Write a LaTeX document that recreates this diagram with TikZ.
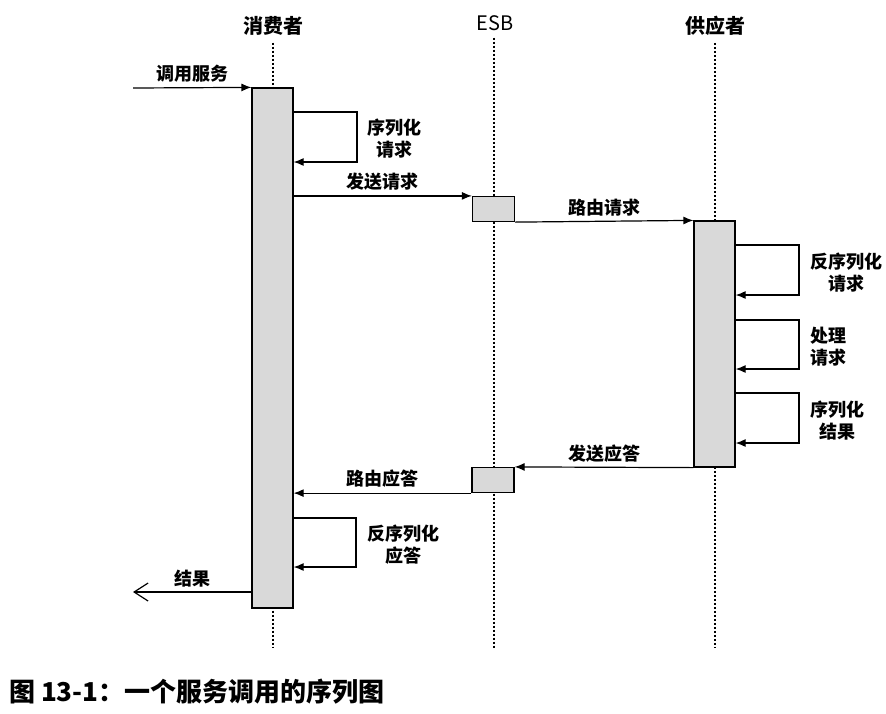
\documentclass[tikz,border=0pt]{standalone}
\usepackage{fontspec}
\setmainfont{Noto Sans CJK SC}
\usetikzlibrary{arrows.meta}

\begin{document}
\begin{tikzpicture}[x=0.5pt,y=-0.5pt,>=Latex,
    actor/.style={font=\bfseries\fontsize{10}{12}\selectfont},
    lifeline/.style={line width=1pt,dash pattern=on 1pt off 1pt},
    actbox/.style={draw,fill=black!15,line width=0.6pt,inner sep=0pt,minimum width=20.5pt},
    msg/.style={line width=0.6pt,-{Latex[length=5pt,width=4pt]}},
    lbl/.style={font=\bfseries\fontsize{9}{11}\selectfont,align=center},
    caption/.style={font=\bfseries\fontsize{13}{15}\selectfont}]

  \useasboundingbox (0,0) rectangle (886,713);

  % ===== 参与者 =====
  \node[actor] (cons) at (273,26) {消费者};
  \node[actor,font=\fontsize{10}{12}\selectfont] (esb) at (495,23) {ESB};
  \node[actor] (prov) at (715,26) {供应者};

  \coordinate (consend) at (273,648);
  \coordinate (esbend)  at (494,648);
  \coordinate (provend) at (715,648);

  % ===== 生命线 =====
  \draw[lifeline] (cons.south) -- (consend);
  \draw[lifeline] (esb.south -| esbend) -- (esbend);
  \draw[lifeline] (prov.south) -- (provend);

  % ===== 激活框 =====
  \node[actbox,minimum height=260pt] (cact) at (272.5,348) {};
  \node[actbox,minimum width=21pt,minimum height=12.5pt] (ereq) at (493.5,209) {};
  \node[actbox,minimum width=21pt,minimum height=12.5pt] (eres) at (493,480) {};
  \node[actbox,minimum height=123pt] (pact) at (714.5,344) {};

  % ===== 消息 =====
  \coordinate (start) at (133,88);
  \coordinate (finish) at (133,592);
  \draw[msg] (start) -- (cact.north west)
    node[lbl,midway,above=-1pt] {调用服务};

  \draw[msg] (cact.east |- 0,112) -- (357,112) |- (cact.east |- 0,162);
  \node[lbl,anchor=west] (ser) at (360,139) {序列化\\请求};

  \draw[msg] (cact.east |- ereq.north) -- (ereq.north west)
    node[lbl,midway,above=-1pt] {发送请求};
  \draw[msg] (ereq.south east) -- (pact.north west)
    node[lbl,midway,above=-1pt] {路由请求};

  \draw[msg] (pact.east |- 0,245) -- (799,245) |- (pact.east |- 0,295);
  \node[lbl,anchor=west] (deser) at (803,273) {反序列化\\请求};
  \draw[msg] (pact.east |- 0,320) -- (799,320) |- (pact.east |- 0,369);
  \node[lbl,anchor=west] (proc) at (803,347) {处理\\请求};
  \draw[msg] (pact.east |- 0,393) -- (799,393) |- (pact.east |- 0,443);
  \node[lbl,anchor=west] (serres) at (803,421) {序列化\\结果};

  \draw[msg] (pact.south west) -- (eres.north east)
    node[lbl,midway,above=-1pt] {发送应答};
  \draw[msg] (eres.south west) -- (cact.east |- eres.south)
    node[lbl,midway,above=-1pt] {路由应答};

  \draw[msg] (cact.east |- 0,518) -- (356,518) |- (cact.east |- 0,567);
  \node[lbl,anchor=west] (deserres) at (360,545) {反序列化\\应答};

  \draw[line width=0.6pt,-{Straight Barb[length=7pt,width=9pt]}] (cact.west |- finish) -- (finish)
    node[lbl,midway,above=-1pt] {结果};

  % ===== 图题 =====
  \node[caption,anchor=west] (cap) at (2,692) {图 13-1：一个服务调用的序列图};

\end{tikzpicture}
\end{document}
